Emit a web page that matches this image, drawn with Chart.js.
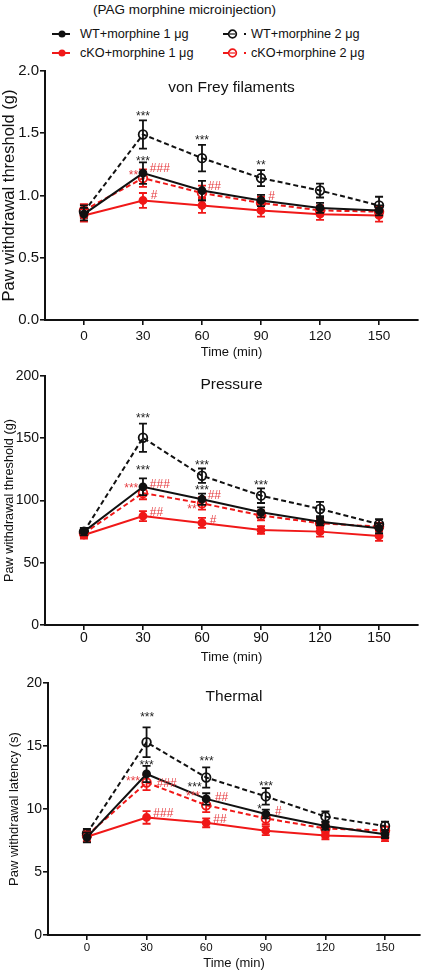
<!DOCTYPE html>
<html>
<head>
<meta charset="utf-8">
<script src="https://cdn.jsdelivr.net/npm/chart.js@4.4.1/dist/chart.umd.min.js"></script>
<style>
  html, body { margin: 0; padding: 0; background: #fff; }
  body { width: 428px; height: 975px; position: relative; overflow: hidden;
         font-family: "Liberation Sans", Arial, sans-serif; color: #111; }
  canvas { position: absolute; left: 0; }
  #head { position: absolute; left: 0; top: 2px; width: 369px; text-align: center; font-size: 13.5px; }
  .leg { position: absolute; font-size: 12.7px; line-height: 14px; white-space: nowrap; }
  svg.mk { position: absolute; }
</style>
</head>
<body>
<div id="head">(PAG morphine microinjection)</div>
<div id="legend"></div>
<canvas id="c1" width="428" height="300" style="top:60px"></canvas>
<canvas id="c2" width="428" height="305" style="top:360px"></canvas>
<canvas id="c3" width="428" height="310" style="top:665px"></canvas>
<script>
'use strict';

const timePoints = [0, 30, 60, 90, 120, 150];
const seriesLabels = ['WT+morphine 1 μg', 'cKO+morphine 1 μg', 'WT+morphine 2 μg', 'cKO+morphine 2 μg'];

// von Frey filaments (g)
const vfWt1 = [0.85, 1.18, 1.04, 0.96, 0.90, 0.88];
const vfCko1 = [0.84, 0.96, 0.92, 0.88, 0.85, 0.84];
const vfWt2 = [0.87, 1.49, 1.30, 1.14, 1.04, 0.92];
const vfCko2 = [0.88, 1.14, 1.02, 0.94, 0.88, 0.87];
const vfWt1Err = [0.05, 0.086, 0.078, 0.045, 0.04, 0.04];
const vfCko1Err = [0.05, 0.06, 0.06, 0.05, 0.045, 0.05];
const vfWt2Err = [0.05, 0.114, 0.107, 0.064, 0.056, 0.07];
const vfCko2Err = [0.05, 0.07, 0.06, 0.05, 0.04, 0.04];

// Pressure (g)
const prWt1 = [75, 111, 101, 90.5, 83, 77.7];
const prCko1 = [72.3, 87.5, 82, 76.3, 75, 71.5];
const prWt2 = [75, 150.4, 119.9, 103.9, 93.2, 81];
const prCko2 = [73.6, 106, 97.7, 88, 81.7, 79];
const prWt1Err = [3, 6.7, 4.5, 4, 3, 4];
const prCko1Err = [3, 4, 4, 3, 4, 4];
const prWt2Err = [3, 11.4, 5.8, 5.9, 5.7, 4];
const prCko2Err = [3, 5, 5, 4, 4, 3];

// Thermal (s)
const thWt1 = [7.75, 12.78, 10.8, 9.6, 8.65, 8.0];
const thCko1 = [7.8, 9.33, 8.9, 8.28, 7.9, 7.75];
const thWt2 = [8.07, 15.3, 12.5, 11.0, 9.4, 8.65];
const thCko2 = [7.9, 12.1, 10.3, 9.25, 8.45, 8.3];
const thWt1Err = [0.4, 0.65, 0.45, 0.35, 0.3, 0.3];
const thCko1Err = [0.4, 0.5, 0.35, 0.35, 0.3, 0.3];
const thWt2Err = [0.35, 1.18, 0.8, 0.66, 0.4, 0.35];
const thCko2Err = [0.45, 0.6, 0.55, 0.45, 0.35, 0.3];

// significance marks: [time, value, text, group (k = vs WT, r = vs cKO), anchor]
const vfMarks = [
  [30, 1.665, '***', 'k', 'c'], [30, 1.30, '***', 'k', 'c'],
  [27.5, 1.186, '**', 'r', 'r'], [33.5, 1.224, '###', 'r', 'l'],
  [33.9, 1.01, '#', 'r', 'l'], [60, 1.467, '***', 'k', 'c'],
  [62.9, 1.084, '##', 'r', 'l'], [90, 1.267, '**', 'k', 'c'],
  [93.7, 0.996, '#', 'r', 'l']
];
const prMarks = [
  [30, 168.7, '***', 'k', 'c'], [30, 127, '***', 'k', 'c'],
  [27.6, 112.4, '***', 'r', 'r'], [33.5, 113.8, '###', 'r', 'l'],
  [33.5, 91, '##', 'r', 'l'], [60, 131.2, '***', 'k', 'c'],
  [60, 111.1, '***', 'k', 'c'], [62.9, 105.2, '##', 'r', 'l'],
  [57.3, 95.8, '**', 'r', 'r'], [64, 85.1, '#', 'r', 'l'],
  [90, 115.1, '***', 'k', 'c']
];
const thMarks = [
  [30.3, 17.54, '***', 'k', 'c'], [30, 13.75, '***', 'k', 'c'],
  [26.7, 12.44, '***', 'r', 'r'], [35.1, 12.09, '###', 'r', 'l'],
  [33.4, 9.74, '###', 'r', 'l'], [60.2, 14.02, '***', 'k', 'c'],
  [57.7, 11.98, '***', 'k', 'r'], [56.9, 11.3, '***', 'r', 'r'],
  [64.4, 10.98, '##', 'r', 'l'], [63.6, 9.26, '##', 'r', 'l'],
  [90.1, 12.09, '***', 'k', 'c'], [88, 10.2, '*', 'k', 'r'],
  [94.6, 9.87, '#', 'r', 'l']
];

const FONT = '"Liberation Sans", Arial, sans-serif';
const BLACK = '#111111';
const RED = '#f01818';
const looks = [
  { color: BLACK, dash: [], open: false },
  { color: RED, dash: [], open: false },
  { color: BLACK, dash: [5, 3], open: true },
  { color: RED, dash: [5, 3], open: true }
];

// legend (html)
const legendPlaces = [[0, 0], [0, 1], [1, 0], [1, 1]];
const legendEl = document.getElementById('legend');
seriesLabels.forEach((lab, i) => {
  const [col, row] = legendPlaces[i];
  const cy = row === 0 ? 34 : 52.5;
  const c = looks[i].color;
  let svg;
  if (!looks[i].open) {
    svg = '<svg class="mk" width="24" height="10" style="left:50px;top:' + (cy - 5) + 'px">' +
      '<line x1="2" y1="5" x2="20" y2="5" stroke="' + c + '" stroke-width="2"/>' +
      '<circle cx="12" cy="5" r="3.5" fill="' + c + '"/></svg>';
  } else {
    svg = '<svg class="mk" width="30" height="12" style="left:220px;top:' + (cy - 6) + 'px">' +
      '<line x1="3" y1="6" x2="8" y2="6" stroke="' + c + '" stroke-width="2"/>' +
      '<circle cx="12.5" cy="6" r="3.8" fill="none" stroke="' + c + '" stroke-width="1.8"/>' +
      '<line x1="10" y1="6" x2="15" y2="6" stroke="' + c + '" stroke-width="1.2"/>' +
      '<line x1="24" y1="6" x2="26" y2="6" stroke="' + c + '" stroke-width="2"/></svg>';
  }
  const left = col === 0 ? 80 : 251;
  legendEl.insertAdjacentHTML('beforeend', svg +
    '<div class="leg" style="left:' + left + 'px;top:' + (cy - 7) + 'px">' + lab + '</div>');
});

const errorBars = {
  id: 'errorBars',
  afterDatasetDraw(chart, args) {
    const ds = chart.data.datasets[args.index];
    const xs = chart.scales.x, ys = chart.scales.y;
    const ctx = chart.ctx;
    ctx.save();
    ctx.strokeStyle = ds.borderColor;
    ctx.lineWidth = 1.8;
    ctx.setLineDash([]);
    ds.data.forEach((p, j) => {
      const e = ds.errors[j];
      const x = xs.getPixelForValue(p.x);
      const y1 = ys.getPixelForValue(p.y - e);
      const y2 = ys.getPixelForValue(p.y + e);
      ctx.beginPath();
      ctx.moveTo(x, y1); ctx.lineTo(x, y2);
      ctx.moveTo(x - 4, y1); ctx.lineTo(x + 4, y1);
      ctx.moveTo(x - 4, y2); ctx.lineTo(x + 4, y2);
      ctx.stroke();
    });
    ctx.restore();
  }
};

const panelText = {
  id: 'panelText',
  afterDraw(chart, args, opts) {
    const ctx = chart.ctx, a = chart.chartArea;
    const xs = chart.scales.x, ys = chart.scales.y;
    ctx.save();
    ctx.fillStyle = BLACK;
    ctx.font = opts.titleSize + 'px ' + FONT;
    ctx.textAlign = 'center';
    ctx.textBaseline = 'middle';
    ctx.fillText(opts.title, (a.left + a.right) / 2, a.top + opts.titleDy);
    ctx.font = '12px ' + FONT;
    ctx.textBaseline = 'alphabetic';
    opts.marks.forEach(([t, v, txt, grp, anchor]) => {
      ctx.fillStyle = grp === 'k' ? '#222' : '#e63c40';
      ctx.textAlign = anchor === 'c' ? 'center' : (anchor === 'l' ? 'left' : 'right');
      const drop = txt[0] === '*' ? 7 : 4.5;
      ctx.fillText(txt, xs.getPixelForValue(t), ys.getPixelForValue(v) + drop);
    });
    ctx.restore();
  }
};

function datasetsFor(values, errors) {
  return values.map((vals, i) => ({
    label: seriesLabels[i],
    data: timePoints.map((t, j) => ({ x: t, y: vals[j] })),
    errors: errors[i],
    borderColor: looks[i].color,
    borderWidth: 2,
    borderDash: looks[i].dash,
    pointRadius: looks[i].open ? 4.3 : 3.5,
    pointBorderWidth: 1.8,
    pointBackgroundColor: looks[i].open ? 'rgba(0,0,0,0)' : looks[i].color,
    pointBorderColor: looks[i].color,
    tension: 0,
    clip: false
  }));
}

function makePanel(id, p) {
  new Chart(document.getElementById(id), {
    type: 'line',
    data: { datasets: datasetsFor(p.values, p.errors) },
    plugins: [errorBars, panelText],
    options: {
      responsive: false,
      animation: false,
      layout: { padding: { top: p.padTop, right: p.padRight, bottom: 0, left: 0 } },
      plugins: {
        legend: { display: false },
        tooltip: { enabled: false },
        panelText: { title: p.title, titleDy: p.titleDy, titleSize: 15.5, marks: p.marks }
      },
      scales: {
        x: {
          type: 'linear', min: p.xMin, max: p.xMax,
          afterFit: s => { s.height = 40; },
          afterBuildTicks: s => { s.ticks = timePoints.map(v => ({ value: v })); },
          grid: { drawOnChartArea: false, tickLength: 5, color: BLACK, lineWidth: 1.6 },
          border: { color: BLACK, width: 2 },
          ticks: { color: BLACK, padding: p.xPad, font: { family: FONT, size: p.xTickSize } },
          title: { display: true, text: 'Time (min)', color: BLACK,
                   padding: { top: 0, bottom: p.xTitlePad }, font: { family: FONT, size: 13 } }
        },
        y: {
          min: 0, max: p.yMax,
          afterFit: s => { s.width = p.left; },
          grid: { drawOnChartArea: false, tickLength: 5, color: BLACK, lineWidth: 1.6 },
          border: { color: BLACK, width: 2 },
          ticks: { stepSize: p.yStep, color: BLACK, padding: 1,
                   font: { family: FONT, size: p.yTickSize },
                   callback: v => p.decimals ? v.toFixed(1) : String(v) },
          title: { display: true, text: p.yTitle, color: BLACK,
                   padding: { top: p.yTitlePad, bottom: 0 }, font: { family: FONT, size: p.yTitleSize } }
        }
      }
    }
  });
}

makePanel('c1', {
  values: [vfWt1, vfCko1, vfWt2, vfCko2],
  errors: [vfWt1Err, vfCko1Err, vfWt2Err, vfCko2Err],
  marks: vfMarks, title: 'von Frey filaments', titleDy: 17,
  padTop: 11, padRight: 10, left: 45, xMin: -19.8, xMax: 169.8,
  yMax: 2, yStep: 0.5, decimals: true,
  yTitle: 'Paw withdrawal threshold (g)', yTitleSize: 16.5, yTitlePad: 0,
  yTickSize: 15, xTickSize: 13.5, xPad: 3, xTitlePad: 0
});
makePanel('c2', {
  values: [prWt1, prCko1, prWt2, prCko2],
  errors: [prWt1Err, prCko1Err, prWt2Err, prCko2Err],
  marks: prMarks, title: 'Pressure', titleDy: 9,
  padTop: 16, padRight: 10, left: 45, xMin: -19.8, xMax: 169.8,
  yMax: 200, yStep: 50, decimals: false,
  yTitle: 'Paw withdrawal threshold (g)', yTitleSize: 12.7, yTitlePad: 2,
  yTickSize: 14, xTickSize: 14, xPad: 0, xTitlePad: 0
});
makePanel('c3', {
  values: [thWt1, thCko1, thWt2, thCko2],
  errors: [thWt1Err, thCko1Err, thWt2Err, thCko2Err],
  marks: thMarks, title: 'Thermal', titleDy: 14,
  padTop: 18, padRight: 8, left: 48, xMin: -19.6, xMax: 167.6,
  yMax: 20, yStep: 5, decimals: false,
  yTitle: 'Paw withdrawal latency (s)', yTitleSize: 13, yTitlePad: 7,
  yTickSize: 14, xTickSize: 11.5, xPad: 1, xTitlePad: 4
});
</script>
</body>
</html>
